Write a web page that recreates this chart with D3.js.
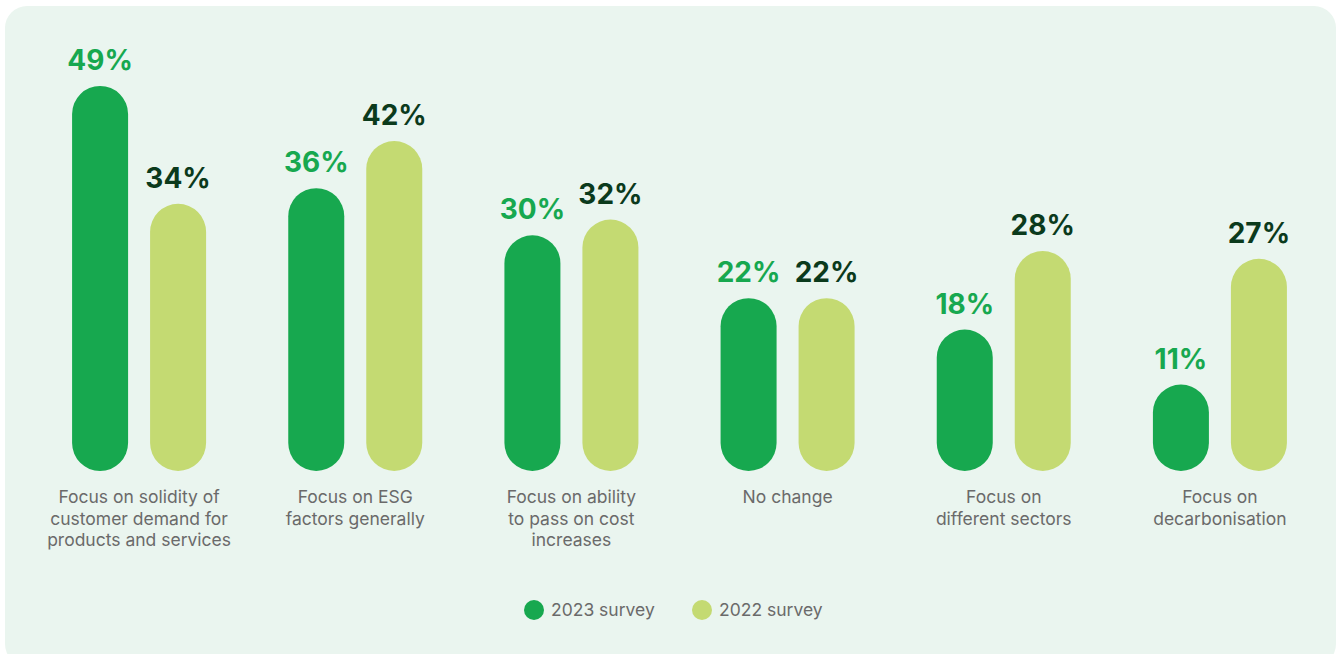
<!DOCTYPE html>
<html>
<head>
<meta charset="utf-8">
<script src="https://cdn.jsdelivr.net/npm/d3@7"></script>
<style>
  html, body { margin: 0; padding: 0; background: #ffffff; }
  svg { display: block; }
</style>
</head>
<body>
<svg id="chart" width="1338" height="654"></svg>
<script>
// Survey responses by category
const categories = [
  ["Focus on solidity of", "customer demand for", "products and services"],
  ["Focus on ESG", "factors generally"],
  ["Focus on ability", "to pass on cost", "increases"],
  ["No change"],
  ["Focus on", "different sectors"],
  ["Focus on", "decarbonisation"]
];
const seriesNames = ["2023 survey", "2022 survey"];
const values2023 = [49, 36, 30, 22, 18, 11];
const values2022 = [34, 42, 32, 22, 28, 27];

const colors = ["#17a84f", "#c4da72"];
const labelColors = ["#17a84f", "#0b3a1c"];
const fontFamily = "Inter, 'Open Sans', sans-serif";

const svg = d3.select("#chart");

// Panel background
svg.append("rect")
  .attr("x", 5).attr("y", 6)
  .attr("width", 1331).attr("height", 660)
  .attr("rx", 22).attr("ry", 22)
  .attr("fill", "#eaf5ef");

const keys = categories.map((c, i) => i);
const x = d3.scaleBand().domain(keys).range([31, 1328]).padding(0);
const y = d3.scaleLinear().domain([0, 49]).range([471, 86]);

const barWidth = 56;
const gap = 22;
const series = [values2023, values2022];

const g = svg.append("g");

series.forEach((vals, s) => {
  const offset = s === 0 ? -(gap / 2 + barWidth) : gap / 2;
  const grp = g.append("g");
  grp.selectAll("path")
    .data(vals)
    .join("path")
    .attr("fill", colors[s])
    .attr("d", (v, i) => {
      const x0 = x(i) + x.bandwidth() / 2 + offset;
      const top = y(v);
      const bottom = y(0);
      const r = barWidth / 2;
      const p = d3.path();
      p.moveTo(x0, top + r);
      p.arc(x0 + r, top + r, r, Math.PI, 0);
      p.lineTo(x0 + barWidth, bottom - r);
      p.arc(x0 + r, bottom - r, r, 0, Math.PI);
      p.closePath();
      return p.toString();
    });

  grp.selectAll("text")
    .data(vals)
    .join("text")
    .attr("x", (v, i) => x(i) + x.bandwidth() / 2 + offset + barWidth / 2)
    .attr("y", v => y(v) - 16)
    .attr("text-anchor", "middle")
    .attr("font-family", fontFamily)
    .attr("font-weight", 700)
    .attr("font-size", 28)
    .attr("fill", labelColors[s])
    .text(v => v + "%");
});

// Category labels below each pair
const catG = g.append("g");
categories.forEach((lines, i) => {
  const t = catG.append("text")
    .attr("x", x(i) + x.bandwidth() / 2)
    .attr("y", 503)
    .attr("text-anchor", "middle")
    .attr("font-family", fontFamily)
    .attr("font-size", 17.5)
    .attr("fill", "#6a6a6a");
  lines.forEach((ln, j) => {
    t.append("tspan")
      .attr("x", x(i) + x.bandwidth() / 2)
      .attr("dy", j === 0 ? 0 : 21.5)
      .text(ln);
  });
});

// Legend
const legendX = [534, 702];
const legend = svg.append("g");
seriesNames.forEach((name, s) => {
  legend.append("circle")
    .attr("cx", legendX[s]).attr("cy", 610).attr("r", 10)
    .attr("fill", colors[s]);
  legend.append("text")
    .attr("x", legendX[s] + 17).attr("y", 616)
    .attr("font-family", fontFamily)
    .attr("font-size", 17.5)
    .attr("fill", "#6a6a6a")
    .text(name);
});
</script>
</body>
</html>
